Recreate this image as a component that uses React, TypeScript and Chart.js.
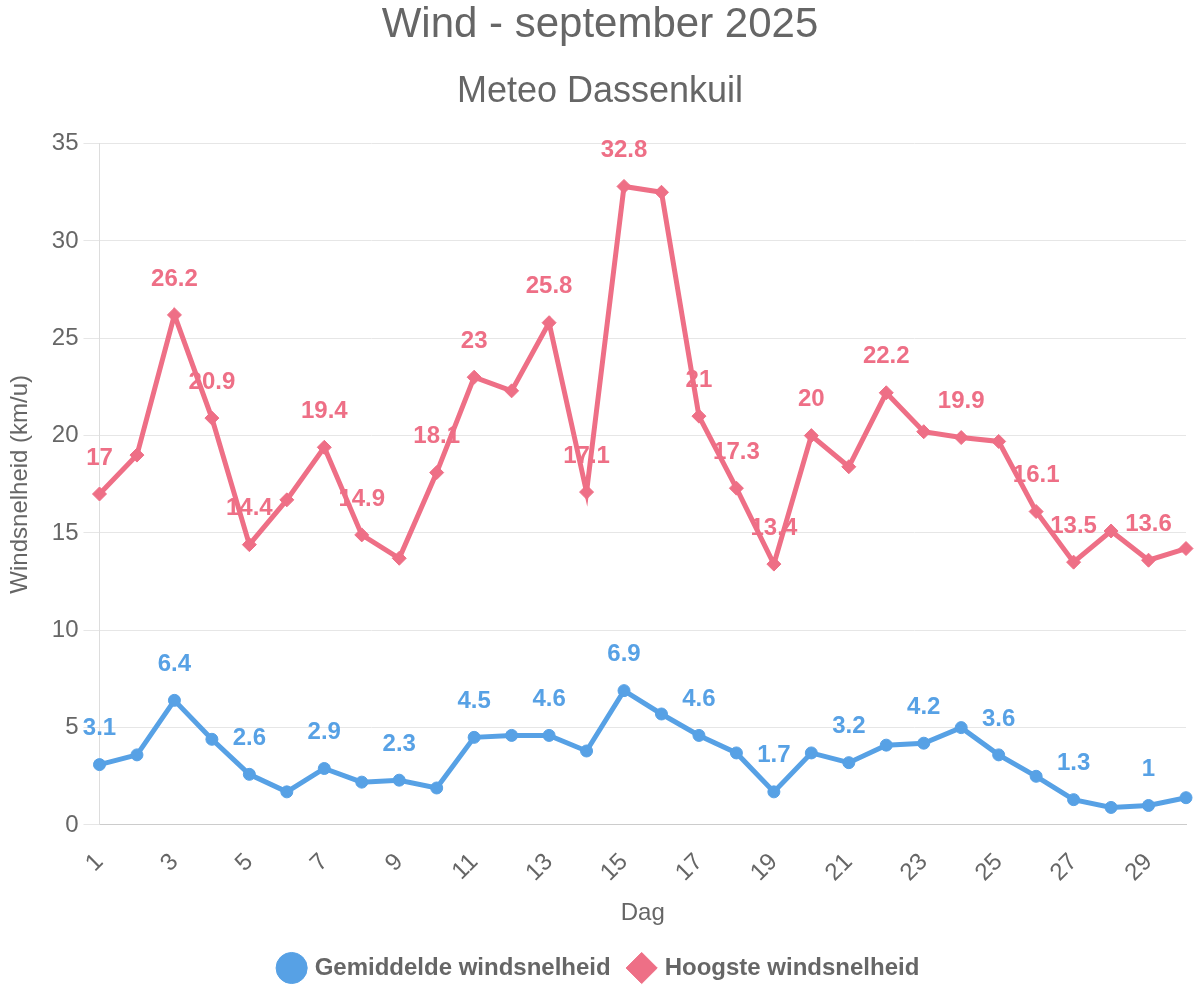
import React, { useEffect, useRef } from 'react';
import { Chart, registerables } from 'chart.js';

Chart.register(...registerables);

const days = ['1', '2', '3', '4', '5', '6', '7', '8', '9', '10', '11', '12', '13', '14', '15',
    '16', '17', '18', '19', '20', '21', '22', '23', '24', '25', '26', '27', '28', '29', '30'];

// gemiddelde windsnelheid (km/u)
const avgWind = [3.1, 3.6, 6.4, 4.4, 2.6, 1.7, 2.9, 2.2, 2.3, 1.9, 4.5, 4.6, 4.6, 3.8, 6.9,
    5.7, 4.6, 3.7, 1.7, 3.7, 3.2, 4.1, 4.2, 5.0, 3.6, 2.5, 1.3, 0.9, 1, 1.4];

// hoogste windsnelheid (km/u)
const maxWind = [17, 19, 26.2, 20.9, 14.4, 16.7, 19.4, 14.9, 13.7, 18.1, 23, 22.3, 25.8, 17.1, 32.8,
    32.5, 21, 17.3, 13.4, 20, 18.4, 22.2, 20.2, 19.9, 19.7, 16.1, 13.5, 15.1, 13.6, 14.2];

// which points get a value label
const avgLabelIdx = [0, 2, 4, 6, 8, 10, 12, 14, 16, 18, 20, 22, 24, 26, 28];
const maxLabelIdx = [0, 2, 3, 4, 6, 7, 9, 10, 12, 13, 14, 16, 17, 18, 19, 21, 23, 25, 26, 28];

const yTicks = [0, 5, 10, 15, 20, 25, 30, 35];

const BLUE = '#57a1e5';
const RED = '#ee6f86';
const FONT = "'Liberation Sans', Arial, Helvetica, sans-serif";

const valueLabels = {
    id: 'valueLabels',
    afterDatasetsDraw(chart: any) {
        const ctx = chart.ctx;
        const shown = [avgLabelIdx, maxLabelIdx];
        ctx.save();
        ctx.font = `bold 24px ${FONT}`;
        ctx.textAlign = 'center';
        ctx.textBaseline = 'middle';
        chart.data.datasets.forEach((ds: any, i: number) => {
            const meta = chart.getDatasetMeta(i);
            ctx.fillStyle = ds.borderColor;
            meta.data.forEach((pt: any, j: number) => {
                if (!shown[i].includes(j)) return;
                ctx.fillText(String(ds.data[j]), pt.x, pt.y - 36);
            });
        });
        ctx.restore();
    }
};

export default function App() {
    const chartRef = useRef<HTMLCanvasElement>(null);
    const chartInstance = useRef<Chart | null>(null);

    useEffect(() => {
        document.body.style.margin = '0';
        if (!chartRef.current) return;
        if (chartInstance.current) chartInstance.current.destroy();

        Chart.defaults.font.family = FONT;
        Chart.defaults.color = '#666';

        chartInstance.current = new Chart(chartRef.current, {
            type: 'line',
            data: {
                labels: days,
                datasets: [
                    {
                        label: 'Gemiddelde windsnelheid',
                        data: avgWind,
                        borderColor: BLUE,
                        backgroundColor: BLUE,
                        borderWidth: 5,
                        pointStyle: 'circle',
                        pointRadius: 6,
                        pointBorderWidth: 1,
                        tension: 0
                    },
                    {
                        label: 'Hoogste windsnelheid',
                        data: maxWind,
                        borderColor: RED,
                        backgroundColor: RED,
                        borderWidth: 5,
                        pointStyle: 'rectRot',
                        pointRadius: 7,
                        pointBorderWidth: 1,
                        tension: 0
                    }
                ]
            },
            options: {
                animation: false,
                responsive: true,
                maintainAspectRatio: false,
                layout: { padding: { left: 8, right: 8, top: 0, bottom: 10 } },
                plugins: {
                    title: {
                        display: true,
                        text: 'Wind - september 2025',
                        font: { size: 42, weight: 'normal' },
                        color: '#666',
                        padding: { top: 0, bottom: 10 }
                    },
                    subtitle: {
                        display: true,
                        text: 'Meteo Dassenkuil',
                        font: { size: 36 },
                        color: '#666',
                        padding: { top: 10, bottom: 30 }
                    },
                    legend: {
                        position: 'bottom',
                        labels: {
                            usePointStyle: true,
                            boxWidth: 22,
                            boxHeight: 22,
                            font: { size: 24, weight: 'bold' },
                            color: '#666',
                            padding: 20
                        }
                    },
                    tooltip: { enabled: false }
                },
                scales: {
                    x: {
                        grid: { display: false },
                        border: { display: true, color: '#cccccc' },
                        afterFit: (axis: any) => {
                            // fixed gap instead of room for the (empty) last rotated label
                            axis.paddingRight = 14;
                        },
                        ticks: {
                            autoSkip: false,
                            minRotation: 45,
                            maxRotation: 45,
                            font: { size: 24 },
                            color: '#666',
                            padding: 15,
                            callback: (_v: any, i: number) => (i % 2 === 0 ? days[i] : '')
                        },
                        title: {
                            display: true,
                            text: 'Dag',
                            font: { size: 24 },
                            color: '#666',
                            padding: { top: -3, bottom: 8 }
                        }
                    },
                    y: {
                        min: yTicks[0],
                        max: yTicks[yTicks.length - 1],
                        afterBuildTicks: (axis: any) => {
                            axis.ticks = yTicks.map((v) => ({ value: v }));
                        },
                        grid: { color: '#e6e6e6', tickLength: 16 },
                        border: { color: '#dddddd' },
                        ticks: { font: { size: 24 }, color: '#666', padding: 5 },
                        title: {
                            display: true,
                            text: 'Windsnelheid (km/u)',
                            font: { size: 24 },
                            color: '#666',
                            padding: { top: -2, bottom: 12 }
                        }
                    }
                }
            } as any,
            plugins: [valueLabels]
        });

        return () => {
            if (chartInstance.current) {
                chartInstance.current.destroy();
                chartInstance.current = null;
            }
        };
    }, []);

    return (
        <div style={{ position: 'relative', width: 1200, height: 1000 }}>
            <canvas ref={chartRef}></canvas>
        </div>
    );
}
